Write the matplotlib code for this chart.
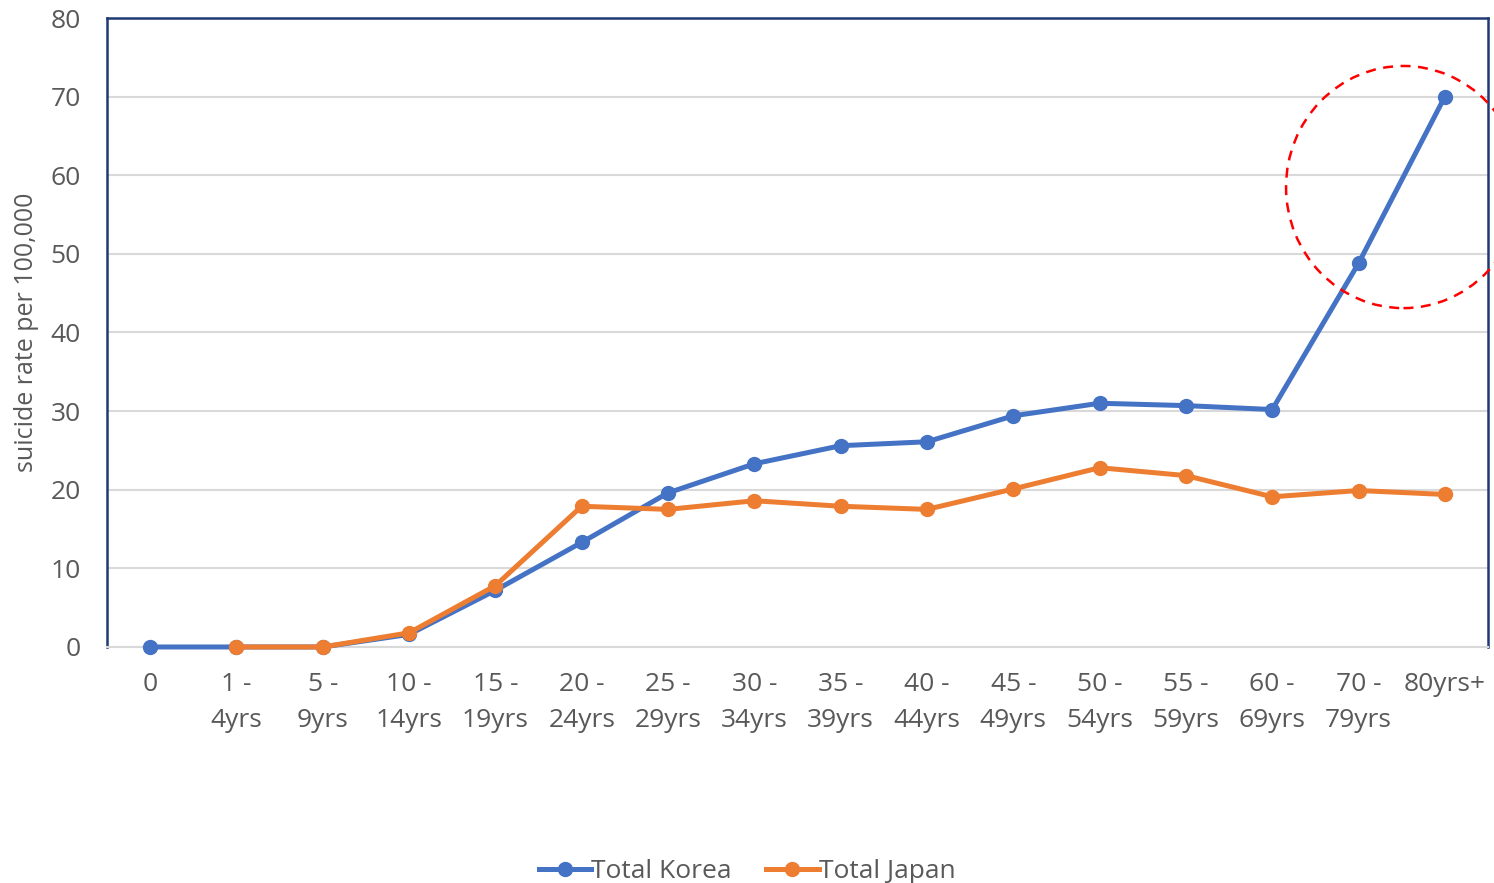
import matplotlib.pyplot as plt
from matplotlib.patches import Ellipse

age_groups = ['0', '1 -\n4yrs', '5 -\n9yrs', '10 -\n14yrs', '15 -\n19yrs', '20 -\n24yrs',
              '25 -\n29yrs', '30 -\n34yrs', '35 -\n39yrs', '40 -\n44yrs', '45 -\n49yrs',
              '50 -\n54yrs', '55 -\n59yrs', '60 -\n69yrs', '70 -\n79yrs', '80yrs+']
korea = [0, 0, 0, 1.6, 7.2, 13.3, 19.6, 23.3, 25.6, 26.1, 29.4, 31.0, 30.7, 30.2, 48.8, 70.0]
japan = [None, 0, 0, 1.8, 7.8, 17.9, 17.5, 18.6, 17.9, 17.5, 20.1, 22.8, 21.8, 19.1, 19.9, 19.4]

plt.rcParams['font.family'] = ['Open Sans', 'DejaVu Sans']
text_color = '#595959'
grid_color = '#D9D9D9'
frame_color = '#1F3A73'

fig = plt.figure(figsize=(14.94, 8.83), dpi=100)
ax = fig.add_axes([0.0716, 0.2673, 0.9244, 0.7123])

x = range(len(age_groups))
ax.plot(x, korea, color='#4472C4', lw=3.6, marker='o', markersize=10,
        label='Total Korea', clip_on=False, zorder=3)
jx = [i for i, v in enumerate(japan) if v is not None]
jy = [v for v in japan if v is not None]
ax.plot(jx, jy, color='#ED7D31', lw=3.6, marker='o', markersize=10,
        label='Total Japan', clip_on=False, zorder=4)

ax.set_xlim(-0.5, len(age_groups) - 0.5)
ax.set_ylim(0, 80)
ax.set_yticks(range(0, 81, 10))
ax.set_xticks(list(x))
ax.set_xticklabels(age_groups, multialignment='center', linespacing=1.6)
ax.tick_params(axis='both', length=0, labelsize=19, labelcolor=text_color)
ax.tick_params(axis='y', pad=19)
ax.tick_params(axis='x', pad=18)
ax.grid(axis='y', color=grid_color, lw=1.5)
ax.set_axisbelow(True)

for side in ('left', 'top', 'right'):
    ax.spines[side].set_color(frame_color)
    ax.spines[side].set_linewidth(1.8)
ax.spines['bottom'].set_color(grid_color)
ax.spines['bottom'].set_linewidth(1.5)

ax.set_ylabel('suicide rate per 100,000', fontsize=18, color=text_color, labelpad=8)

# dashed ring around the oldest age groups
ax.add_patch(Ellipse((14.52, 58.5), 2.72, 30.8, fill=False, edgecolor='red',
                     linestyle=(0, (4, 3)), lw=1.8, clip_on=False, zorder=5))

fig.legend(loc='lower center', bbox_to_anchor=(0.5, -0.028), ncol=2, frameon=False,
           fontsize=19, labelcolor=text_color, handlelength=2.0, handletextpad=0.0,
           columnspacing=1.3)

fig.savefig('out.png', dpi=100)
